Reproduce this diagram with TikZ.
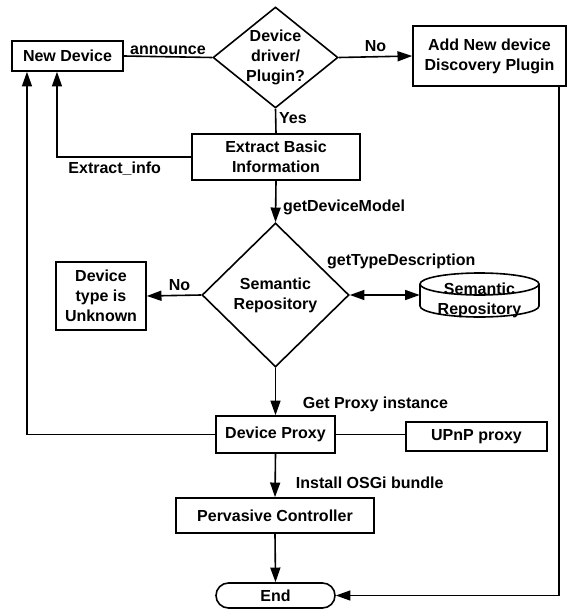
\documentclass[tikz,border=0pt]{standalone}
\usepackage{fontspec}
\setmainfont{Liberation Sans}
\usetikzlibrary{arrows.meta,shapes.geometric,shapes.misc}
\begin{document}
\begin{tikzpicture}[x=0.75pt,y=-0.75pt,
  every node/.style={font=\fontsize{12}{15}\selectfont\bfseries},
  box/.style={draw, line width=1.2pt, inner sep=0pt, align=center},
  decision/.style={draw, diamond, line width=1.2pt, inner sep=-1.5pt, align=center},
  lbl/.style={inner sep=1pt},
  link/.style={line width=1.2pt},
  arr/.style={line width=1.2pt, -{Triangle[length=11pt,width=7.5pt]}},
  twoway/.style={line width=1.2pt, {Triangle[length=11pt,width=7.5pt]}-{Triangle[length=11pt,width=7.5pt]}},
]
\useasboundingbox (0,0) rectangle (568,610);

% boxes and decisions
\node[box, minimum width=83.25pt, minimum height=22.5pt] (newdev) at (67.5,56) {New Device};
\node[decision, shape aspect=1.24, minimum width=93.75pt, minimum height=75.75pt] (dec1) at (275.5,57.5) {Device\\driver/\\Plugin?};
\node[box, minimum width=114.75pt, minimum height=45pt] (addnew) at (489.5,56) {Add New device\\Discovery Plugin};
\node[box, minimum width=126pt, minimum height=34.5pt] (extract) at (276,157) {Extract Basic\\Information};
\node[decision, inner sep=0pt, minimum width=110.25pt, minimum height=108pt] (dec2) at (275.5,295) {Semantic\\Repository};
\node[box, minimum width=67.5pt, minimum height=51pt] (unknown) at (101,296) {Device\\type is\\Unknown};
\node[minimum width=89.25pt, minimum height=33pt, inner sep=0pt] (repo) at (479.5,295) {};
\node[align=center, inner sep=0pt] (repotext) at (479.5,300) {Semantic\\Repository};
\node[box, minimum width=89.25pt, minimum height=27.75pt] (proxy) at (275.5,434.5) {Device Proxy};
\node[box, minimum width=105.75pt, minimum height=21.75pt] (upnp) at (476.5,436.5) {UPnP proxy};
\node[box, minimum width=148.5pt, minimum height=26.25pt] (perv) at (275,515.5) {Pervasive Controller};
\node[box, rounded rectangle, minimum width=89.25pt, minimum height=18.75pt] (endn) at (275.5,595.5) {End};

% repository cylinder
\draw[link] (479.5,284) ellipse [x radius=44.625pt, y radius=8.25pt];
\draw[link] (420,284) -- (420,306) arc[start angle=180, end angle=360, x radius=44.625pt, y radius=8.25pt] -- (539,284);

% connectors
\draw[link] (newdev.east) -- node[lbl, above] {announce} (dec1.west);
\draw[arr] (dec1.east) -- node[lbl, above, yshift=2pt] {No} (addnew.west);
\draw[link] (dec1.south) -- node[lbl, pos=0.38, anchor=west, xshift=1pt] {Yes} (extract.north);
\draw[arr] (extract.west) -| node[lbl, pos=0.285, below, yshift=-2pt] {Extract\_info} ([xshift=-7.9pt]newdev.south);
\draw[arr] (extract.south) -- node[lbl, pos=0.65, anchor=west, xshift=4pt] {getDeviceModel} (dec2.north);
\draw[arr] (dec2.west) -- node[lbl, pos=0.4, above, yshift=2pt] {No} (unknown.east);
\draw[twoway] (dec2.east) -- node[lbl, midway, xshift=12.4pt, yshift=25.5pt] {getTypeDescription} (repo.west);
\draw[arr] (dec2.south) -- node[lbl, pos=0.78, anchor=west, xshift=19pt] {Get Proxy instance} (proxy.north);
\draw[arr] (proxy.west) -| ([xshift=-30.4pt]newdev.south);
\draw[link] (proxy.east) -- (proxy.east -| upnp.west);
\draw[arr] (proxy.south) -- node[lbl, pos=0.67, anchor=west, xshift=14pt] {Install OSGi bundle} (perv.north);
\draw[arr] (perv.south) -- (endn.north);
\draw[arr] ([xshift=52.1pt]addnew.south) |- (endn.east);
\end{tikzpicture}
\end{document}
